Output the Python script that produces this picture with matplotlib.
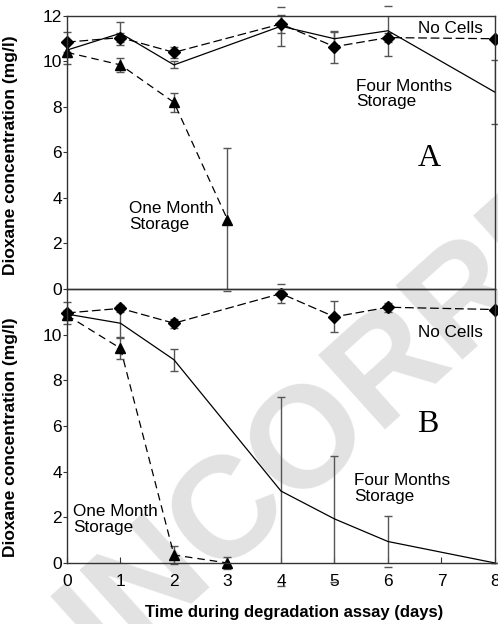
import matplotlib
matplotlib.use("Agg")
import matplotlib.pyplot as plt

plt.rcParams['font.family'] = ['Liberation Sans', 'DejaVu Sans']

# Panel A
a_nocells_days = [0, 1, 2, 4, 5, 6, 8]
a_nocells = [10.85, 11.05, 10.4, 11.65, 10.65, 11.05, 11.0]
a_nocells_err = [0.45, 0.2, 0.25, 0.4, 0.7, 0.2, 0.0]

a_four_days = [0, 1, 2, 4, 5, 6, 8]
a_four = [10.5, 11.24, 9.85, 11.55, 11.0, 11.35, 8.65]
a_four_err = [0.3, 0.5, 0.15, 0.85, 0.3, 1.1, 1.4]

a_one_days = [0, 1, 2, 3]
a_one = [10.4, 9.85, 8.2, 3.05]
a_one_err = [0.5, 0.3, 0.4, 3.15]

# Panel B
b_nocells_days = [0, 1, 2, 4, 5, 6, 8]
b_nocells = [10.95, 11.15, 10.5, 11.8, 10.78, 11.2, 11.1]
b_nocells_err = [0.5, 0.15, 0.2, 0.43, 0.68, 0.2, 0.0]

b_four_days = [0, 1, 2, 4, 5, 6, 8]
b_four = [10.9, 10.5, 8.9, 3.15, 1.93, 0.94, 0.0]
b_four_err = [0.2, 0.6, 0.48, 4.14, 2.77, 1.1, 0.0]

b_one_days = [0, 1, 2, 3]
b_one = [10.85, 9.4, 0.35, 0.0]
b_one_err = [0.2, 0.45, 0.4, 0.25]

ylabel = "Dioxane concentration (mg/l)"
xlabel = "Time during degradation assay (days)"

ERR_COLOR = '#555555'


def draw_panel(ax, nc, four, one):
    # nc/four/one are (days, values, errors)
    ax.errorbar(four[0], four[1], yerr=four[2], color='black', lw=0.9,
                ecolor=ERR_COLOR, elinewidth=1.0, capsize=3, capthick=1.0)
    ax.errorbar(nc[0], nc[1], yerr=nc[2], color='black', lw=0.9,
                dashes=(7, 3), marker='D', markersize=6,
                ecolor=ERR_COLOR, elinewidth=1.0, capsize=3, capthick=1.0)
    ax.errorbar(one[0], one[1], yerr=one[2], color='black', lw=0.9,
                dashes=(6, 4), marker='^', markersize=6.5,
                ecolor=ERR_COLOR, elinewidth=1.0, capsize=3, capthick=1.0)
    for line in ax.lines:
        line.set_clip_on(False)

    ax.set_xlim(0, 8)
    ax.set_ylim(0, 12)
    ax.set_facecolor('none')
    for sp in ax.spines.values():
        sp.set_color('#333333')
        sp.set_linewidth(1.0)
    ax.tick_params(axis='y', direction='out', length=3, pad=0.5,
                   labelsize=12.5, color='#333333')
    ax.tick_params(axis='x', direction='in', length=4, pad=8,
                   labelsize=12.5, color='#333333')
    ax.set_xticks(range(0, 9))


fig = plt.figure(figsize=(4.98, 6.24), dpi=100)

# faint diagonal stamp behind both panels
fig.text(0.075, -0.11, "UNCORRECTED PROOF", rotation=42, rotation_mode='anchor',
         ha='left', va='center', fontsize=104, fontweight='bold',
         color='#e2e2e2', zorder=-5)

axA = fig.add_axes([0.1345, 0.5369, 0.8594, 0.4375])
axB = fig.add_axes([0.1345, 0.0978, 0.8594, 0.4391])

draw_panel(axA, (a_nocells_days, a_nocells, a_nocells_err),
           (a_four_days, a_four, a_four_err),
           (a_one_days, a_one, a_one_err))
draw_panel(axB, (b_nocells_days, b_nocells, b_nocells_err),
           (b_four_days, b_four, b_four_err),
           (b_one_days, b_one, b_one_err))

axA.set_yticks(range(0, 13, 2))
axA.tick_params(axis='x', labelbottom=False, length=0)
axB.set_yticks(range(0, 11, 2))

axA.set_ylabel(ylabel, fontsize=12.5, fontweight='bold')
axA.yaxis.set_label_coords(-0.114, 0.49)
axB.set_ylabel(ylabel, fontsize=12.5, fontweight='bold')
axB.yaxis.set_label_coords(-0.114, 0.46)
axB.set_xlabel(xlabel, fontsize=12, fontweight='bold')
axB.xaxis.set_label_coords(0.53, -0.155)

txt = dict(fontsize=12.3, ha='left', va='center', linespacing=1.05)
axA.text(6.56, 11.43, "No Cells", **txt)
axA.text(5.4, 8.57, "Four Months\nStorage", **txt)
axA.text(1.16, 3.19, "One Month\nStorage", **txt)
axA.text(6.77, 5.74, "A", fontsize=23, family=['Liberation Serif'],
         ha='center', va='center')

axB.text(6.56, 10.09, "No Cells", **txt)
axB.text(5.37, 3.25, "Four Months\nStorage", **txt)
axB.text(0.12, 1.9, "One Month\nStorage", **txt)
axB.text(6.75, 6.06, "B", fontsize=23, family=['Liberation Serif'],
         ha='center', va='center')

fig.savefig("out.png", dpi=100)
